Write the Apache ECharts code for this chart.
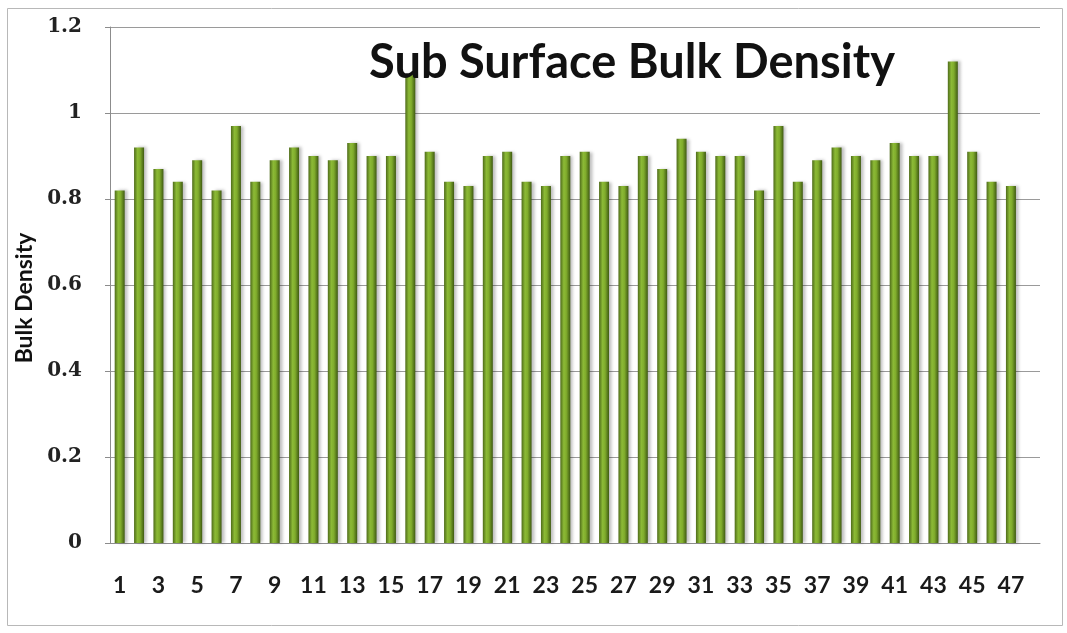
<!DOCTYPE html>
<html>
<head>
<meta charset="utf-8">
<title>Sub Surface Bulk Density</title>
<script src="https://cdn.jsdelivr.net/npm/echarts@6/dist/echarts.min.js"></script>
<style>
  html, body { margin: 0; padding: 0; background: #fff; }
  #chart { width: 1067px; height: 633px; }
</style>
</head>
<body>
<div id="chart"></div>
<script>
// sample numbers along the x axis
var samples = [1, 2, 3, 4, 5, 6, 7, 8, 9, 10, 11, 12, 13, 14, 15, 16, 17, 18, 19, 20,
  21, 22, 23, 24, 25, 26, 27, 28, 29, 30, 31, 32, 33, 34, 35, 36, 37, 38, 39, 40,
  41, 42, 43, 44, 45, 46, 47];
// bulk density
var bulkDensity = [0.82, 0.92, 0.87, 0.84, 0.89, 0.82, 0.97, 0.84, 0.89, 0.92,
  0.90, 0.89, 0.93, 0.90, 0.90, 1.09, 0.91, 0.84, 0.83, 0.90,
  0.91, 0.84, 0.83, 0.90, 0.91, 0.84, 0.83, 0.90, 0.87, 0.94,
  0.91, 0.90, 0.90, 0.82, 0.97, 0.84, 0.89, 0.92, 0.90, 0.89,
  0.93, 0.90, 0.90, 1.12, 0.91, 0.84, 0.83];
var yTicks = [0, 0.2, 0.4, 0.6, 0.8, 1, 1.2];

var chart = echarts.init(document.getElementById('chart'));

// Excel leaves one empty slot after the last sample
var xCategories = samples.map(String).concat(['']);

var option = {
  backgroundColor: '#ffffff',
  animation: false,
  title: {
    text: 'Sub Surface Bulk Density',
    left: 627,
    top: 34,
    textAlign: 'center',
    textStyle: {
      fontFamily: 'Lato',
      fontWeight: 'bold',
      fontSize: 47,
      color: '#111'
    }
  },
  graphic: [{
    // outer chart frame
    type: 'rect',
    shape: { x: 7.5, y: 8.5, width: 1055, height: 617 },
    style: { fill: 'none', stroke: '#b8b8b8', lineWidth: 1 },
    silent: true,
    z: -1
  }],
  grid: {
    left: 110,
    right: 27,
    top: 27,
    bottom: 90
  },
  xAxis: {
    type: 'category',
    data: xCategories,
    boundaryGap: true,
    axisLine: { lineStyle: { color: '#8c8c8c', width: 1 } },
    axisTick: { show: false },
    axisLabel: {
      interval: 1,
      margin: 31,
      fontFamily: 'Lato',
      fontWeight: 'bold',
      fontSize: 23,
      color: '#1a1a1a'
    }
  },
  yAxis: {
    type: 'value',
    min: yTicks[0],
    max: yTicks[yTicks.length - 1],
    interval: 0.2,
    name: 'Bulk Density',
    nameLocation: 'middle',
    nameGap: 72,
    nameTextStyle: {
      fontFamily: 'Lato',
      fontWeight: 'bold',
      fontSize: 23,
      color: '#111',
      padding: [0, 0, 0, -26]
    },
    axisLine: { show: true, lineStyle: { color: '#8c8c8c', width: 1 } },
    axisTick: { show: true, length: 5, lineStyle: { color: '#8c8c8c' } },
    axisLabel: {
      margin: 28,
      fontFamily: 'DejaVu Serif',
      fontWeight: 'bold',
      fontSize: 20,
      color: '#222',
      formatter: function (v) { return String(Math.round(v * 10) / 10); }
    },
    splitLine: { lineStyle: { color: '#9a9a9a', width: 1 } }
  },
  series: [{
    type: 'bar',
    data: bulkDensity,
    barWidth: 10,
    itemStyle: {
      color: {
        type: 'linear', x: 0, y: 0, x2: 1, y2: 0,
        colorStops: [
          { offset: 0, color: '#4e6b1a' },
          { offset: 0.35, color: '#8cba36' },
          { offset: 0.6, color: '#80ac2c' },
          { offset: 1, color: '#3f5a12' }
        ]
      },
      shadowColor: 'rgba(0,0,0,0.25)',
      shadowBlur: 3,
      shadowOffsetX: 3,
      shadowOffsetY: 0
    }
  }]
};

chart.setOption(option);
</script>
</body>
</html>
